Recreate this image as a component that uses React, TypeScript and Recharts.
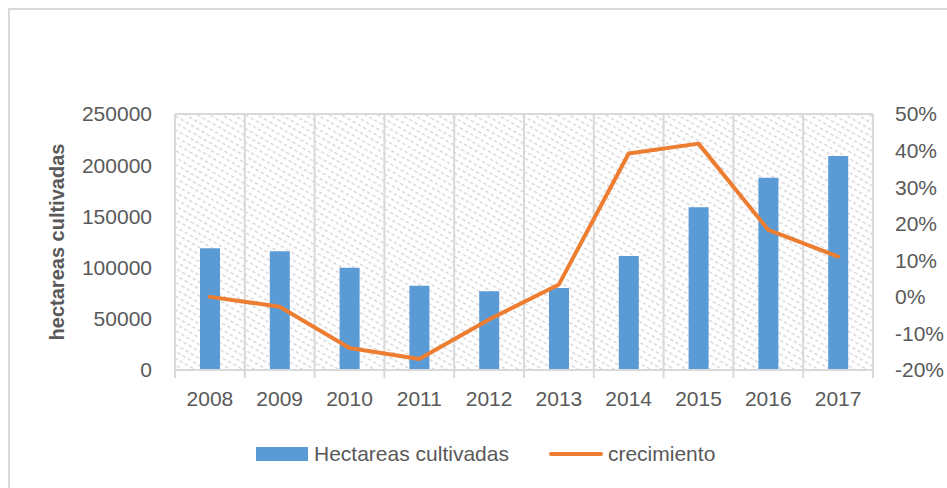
import React from 'react';
import { ComposedChart, Bar, Line, XAxis, YAxis, CartesianGrid, Legend } from 'recharts';

const years = ['2008', '2009', '2010', '2011', '2012', '2013', '2014', '2015', '2016', '2017'];
const hectareas = [119000, 116000, 99800, 82300, 77000, 80000, 111300, 158900, 187800, 209000];
const crecimiento = [0.0, -0.027, -0.14, -0.17, -0.062, 0.034, 0.392, 0.419, 0.183, 0.11];
const leftTicks = [0, 50000, 100000, 150000, 200000, 250000];
const rightTicks = [-0.2, -0.1, 0, 0.1, 0.2, 0.3, 0.4, 0.5];

const data = years.map((y, i) => ({ year: y, hectareas: hectareas[i], crecimiento: crecimiento[i] }));

const W = 947;
const H = 488;
const LEFT_W = 175;
const RIGHT_W = 74;
const PLOT_W = W - LEFT_W - RIGHT_W;
const BAND = PLOT_W / years.length;
const FONT = "'Liberation Sans', Arial, sans-serif";
const TXT = '#595959';
const GRID = '#d9d9d9';
const BLUE = '#5B9BD5';
const ORANGE = '#ED7D31';

const XTick = (props: any) => {
  const { x, y, payload, index } = props;
  return (
    <g>
      <line x1={x - BAND / 2} x2={x - BAND / 2} y1={y} y2={y + 8} stroke={GRID} strokeWidth={2} />
      {index === years.length - 1 && (
        <line x1={x + BAND / 2} x2={x + BAND / 2} y1={y} y2={y + 8} stroke={GRID} strokeWidth={2} />
      )}
      <text x={x} y={y + 29} textAnchor="middle" dy="0.355em" fill={TXT} fontSize={21} fontFamily={FONT}>
        {payload.value}
      </text>
    </g>
  );
};

const renderLegend = (props: any) => {
  const payload = props.payload || [];
  const bar = payload.find((p: any) => p.dataKey === 'hectareas');
  const line = payload.find((p: any) => p.dataKey === 'crecimiento');
  return (
    <div style={{ display: 'flex', alignItems: 'center', marginLeft: 256, fontFamily: FONT, fontSize: 21, color: TXT, height: 30 }}>
      <span style={{ display: 'inline-block', width: 52, height: 14, background: bar ? bar.color : BLUE }} />
      <span style={{ marginLeft: 6 }}>Hectareas cultivadas</span>
      <span style={{ display: 'inline-block', width: 54, height: 4, borderRadius: 2, background: line ? line.color : ORANGE, marginLeft: 40 }} />
      <span style={{ marginLeft: 5 }}>crecimiento</span>
    </div>
  );
};

export default function App() {
  return (
    <div style={{ position: 'absolute', left: 0, top: 0, width: W, height: H, background: '#fff' }}>
      <div
        style={{
          position: 'absolute',
          left: 8,
          top: 8,
          width: W - 8,
          height: H - 8,
          borderLeft: `2px solid ${GRID}`,
          borderTop: `2px solid ${GRID}`,
          boxSizing: 'border-box',
        }}
      />
      <div style={{ position: 'absolute', left: 0, top: 0 }}>
        <ComposedChart width={W} height={H} data={data} margin={{ top: 114, right: 0, left: 0, bottom: 88 }}>
          <defs>
            <pattern id="hatch" width="6" height="6" patternUnits="userSpaceOnUse" patternTransform="rotate(30)">
              <rect width="6" height="6" fill="#ffffff" />
              <rect x="0" y="0" width="3.5" height="1.3" fill="#d2d2d2" />
            </pattern>
          </defs>
          <CartesianGrid
            stroke={GRID}
            strokeWidth={2}
            fill="url(#hatch)"
            fillOpacity={1}
            verticalCoordinatesGenerator={({ offset }: any) =>
              years.map((_, i) => offset.left + i * BAND).concat([offset.left + PLOT_W])
            }
          />
          <XAxis
            dataKey="year"
            xAxisId="x"
            height={30}
            interval={0}
            tickSize={0}
            tickMargin={0}
            axisLine={{ stroke: GRID, strokeWidth: 2 }}
            tickLine={false}
            tick={<XTick />}
          />
          <YAxis
            yAxisId="left"
            orientation="left"
            width={LEFT_W}
            domain={[0, 250000]}
            ticks={leftTicks}
            interval={0}
            axisLine={false}
            tickLine={false}
            tickSize={0}
            tickMargin={23}
            tick={{ fill: TXT, fontSize: 21, fontFamily: FONT }}
            label={{
              content: (p: any) => {
                const vb = p.viewBox || { y: 114, height: 256 };
                const cy = vb.y + vb.height / 2;
                return (
                  <text
                    x={57}
                    y={cy}
                    transform={`rotate(-90 57 ${cy})`}
                    textAnchor="middle"
                    dy="0.355em"
                    fill={TXT}
                    fontSize={20}
                    fontWeight="bold"
                    fontFamily={FONT}
                  >
                    hectareas cultivadas
                  </text>
                );
              },
            }}
          />
          <YAxis
            yAxisId="right"
            orientation="right"
            width={RIGHT_W}
            domain={[-0.2, 0.5]}
            ticks={rightTicks}
            interval={0}
            axisLine={false}
            tickLine={false}
            tickSize={0}
            tickMargin={22}
            tickFormatter={(v: number) => `${Math.round(v * 100)}%`}
            tick={{ fill: TXT, fontSize: 21, fontFamily: FONT }}
          />
          <Bar
            xAxisId="x"
            yAxisId="left"
            dataKey="hectareas"
            name="Hectareas cultivadas"
            fill={BLUE}
            barSize={20}
            isAnimationActive={false}
          />
          <Line
            xAxisId="x"
            yAxisId="right"
            dataKey="crecimiento"
            name="crecimiento"
            stroke={ORANGE}
            strokeWidth={4}
            strokeLinecap="round"
            strokeLinejoin="round"
            dot={false}
            activeDot={false}
            isAnimationActive={false}
          />
          <Legend
            layout="horizontal"
            verticalAlign="middle"
            align="center"
            content={renderLegend}
            wrapperStyle={{ left: 0, top: 439, width: W, margin: 0 }}
          />
        </ComposedChart>
      </div>
    </div>
  );
}
